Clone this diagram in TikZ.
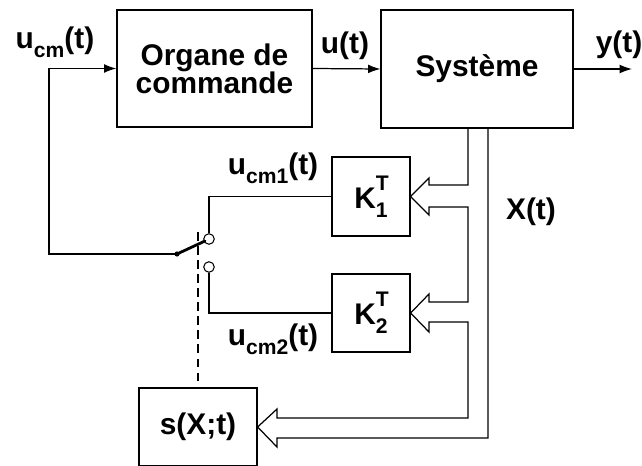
\documentclass[tikz,border=0pt]{standalone}
\usepackage{fontspec}
\setmainfont{Liberation Sans}
\usetikzlibrary{arrows.meta}
\newcommand{\sub}[1]{\raisebox{-0.55ex}{\fontsize{12}{12}\selectfont #1}}
\newcommand{\KK}[1]{K\makebox[0pt][l]{\raisebox{1.15ex}{\fontsize{12}{12}\selectfont T}}\raisebox{-0.55ex}{\fontsize{12}{12}\selectfont #1}}
\tikzset{
  blk/.style={draw, line width=0.7pt, inner sep=0pt, align=center},
  lbl/.style={inner sep=0pt},
  wire/.style={line width=0.7pt},
  sig/.style={wire, -{Latex[length=7pt,width=5pt]}},
  bus/.style={line width=0.7pt, line join=miter},
}
\begin{document}
\begin{tikzpicture}[x=0.02cm,y=-0.02cm,font=\fontsize{17}{18}\selectfont\bfseries]
\useasboundingbox (0,0) rectangle (642,466);
% blocks
\node[blk, minimum width=3.9cm, minimum height=2.34cm] (org) at (214.5,68.5) {Organe de\\[-2pt]commande};
\node[blk, minimum width=3.84cm, minimum height=2.36cm] (sys) at (477,69) {Système};
\node[blk, minimum width=1.56cm, minimum height=1.58cm] (k1) at (371,196.5) {\KK{1}};
\node[blk, minimum width=1.56cm, minimum height=1.56cm] (k2) at (371,313) {\KK{2}};
\node[blk, minimum width=2.36cm, minimum height=1.56cm] (s) at (198,427) {s(X;t)};
% labels
\node[lbl] (lucm) at (55,42) {u\sub{cm}(t)};
\node[lbl] (lu) at (345,46) {u(t)};
\node[lbl] (ly) at (619,45) {y(t)};
\node[lbl] (lu1) at (273,168) {u\sub{cm1}(t)};
\node[lbl] (lu2) at (273,339) {u\sub{cm2}(t)};
\node[lbl] (lx) at (531,212) {X(t)};
% switch
\coordinate (piv) at (177,254);
\coordinate (fb) at (49,254);
\coordinate (out) at (632,69);
\node[draw, circle, line width=0.6pt, minimum size=6pt, inner sep=0pt] (c1) at (209,239) {};
\node[draw, circle, line width=0.6pt, minimum size=6pt, inner sep=0pt] (c2) at (209,267) {};
\fill (piv) circle (2.6);
\draw[line width=1.6pt, line cap=round] (piv) -- (205,241);
% wires
\draw[sig] (piv) -- (fb) |- (org.west);
\draw[sig] (org.east) -- (sys.west);
\draw[sig] (sys.east |- out) -- (out);
\draw[wire] (c1.north) |- (k1.west);
\draw[wire] (c2.south) |- (k2.west);
\draw[wire, dashed, dash pattern=on 5pt off 3pt] (198,232) -- (s.north -| 198,0);
% hollow bus arrows
\draw[bus] (sys.south -| 468,0) -- (468,185) -- (429,185) -- (429,178) -- (k1.east) -- (429,215) -- (429,207) -- (468,207)
  -- (468,302) -- (429,302) -- (429,294) -- (k2.east) -- (429,332) -- (429,322) -- (468,322)
  -- (468,418) -- (277,418) -- (277,409) -- (s.east) -- (277,447) -- (277,438) -- (488,438) -- (sys.south -| 488,0);
\end{tikzpicture}
\end{document}
